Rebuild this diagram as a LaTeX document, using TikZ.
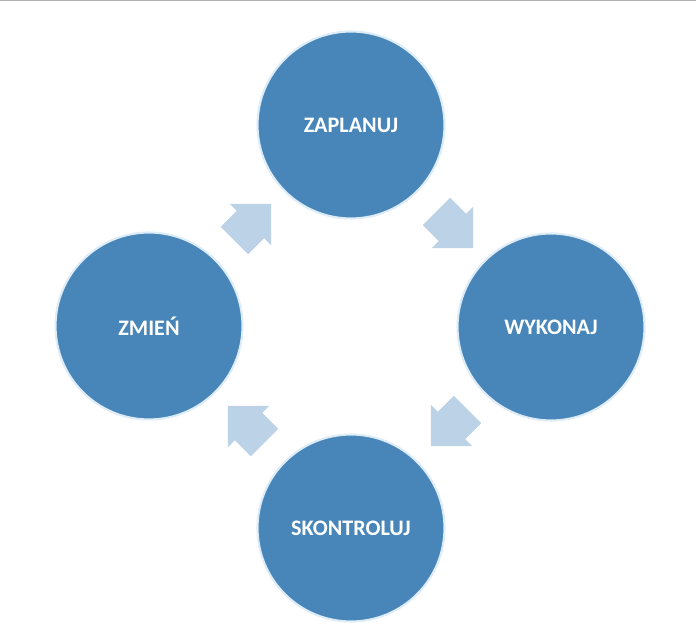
\documentclass[tikz,border=0pt]{standalone}
\usepackage{fontspec}
\setmainfont{Carlito}
\usetikzlibrary{positioning, shapes.arrows}

\definecolor{stepblue}{RGB}{72,134,185}
\definecolor{arrowblue}{RGB}{188,210,230}
\definecolor{rimblue}{RGB}{222,236,248}

\begin{document}
\begin{tikzpicture}[
  x=0.02cm, y=-0.02cm,
  phase/.style={circle, draw=rimblue, line width=1.2pt, fill=stepblue,
    minimum size=3.74cm, inner sep=0pt, text=white,
    font=\fontsize{12.6}{15}\selectfont\bfseries},
  turn/.style={single arrow, draw=none, fill=arrowblue, inner sep=0pt,
    text height=0.38cm, text depth=0.38cm, text width=0pt,
    minimum height=1.04cm,
    single arrow head extend=0.2cm, single arrow tip angle=90},
]

% frame and top rule
\useasboundingbox (0,0) rectangle (696,641);
\draw[gray!60, line width=1pt] (0,0.5) -- (696,0.5);

% === the four phases ===
\node[phase] (plan) at (351,125) {ZAPLANUJ};
\node[phase] (doit) at (551,327) {WYKONAJ};
\node[phase] (check) at (351,528) {SKONTROLUJ};
\node[phase] (act) at (149,326) {ZMIEŃ};

% === arrows between them ===
\node[turn, rotate=-45] (a1) at (448,223) {};
\node[turn, rotate=-135] (a2) at (456,421) {};
\node[turn, rotate=135] (a3) at (253,431) {};
\node[turn, rotate=45] (a4) at (246,229) {};

\end{tikzpicture}
\end{document}
